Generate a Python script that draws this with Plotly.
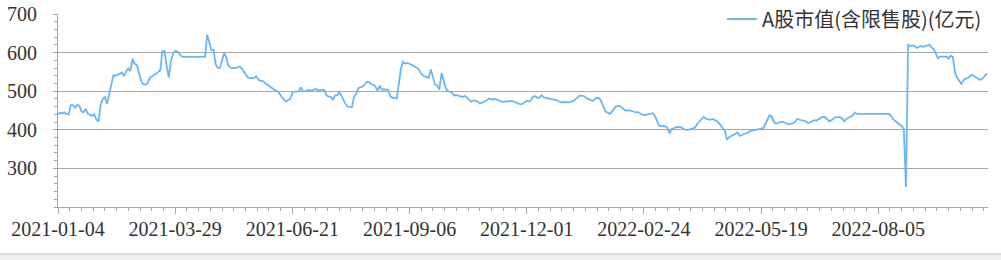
import plotly.graph_objects as go

series_name = "A股市值(含限售股)(亿元)"

tick_labels = ["2021-01-04", "2021-03-29", "2021-06-21", "2021-09-06",
               "2021-12-01", "2022-02-24", "2022-05-19", "2022-08-05"]
label_every = 55  # trading days between labelled dates

y_ticks = [300, 400, 500, 600, 700]

values = [
    440, 444, 442, 445, 441, 440, 464, 464, 457, 464,
    463, 448, 445, 453, 442, 440, 436, 440, 427, 421,
    464, 480, 485, 467, 490, 517, 541, 540, 543, 545,
    548, 539, 552, 559, 552, 584, 571, 568, 543, 527,
    518, 517, 520, 534, 538, 541, 545, 550, 554, 604,
    604, 565, 536, 578, 597, 604, 603, 597, 590, 589,
    589, 589, 589, 589, 589, 589, 589, 589, 589, 589,
    646, 626, 606, 607, 570, 560, 561, 580, 599, 588,
    566, 561, 560, 560, 561, 564, 561, 553, 545, 536,
    534, 534, 534, 539, 530, 527, 527, 522, 518, 513,
    510, 504, 502, 500, 494, 485, 478, 473, 477, 480,
    495, 499, 499, 500, 510, 499, 500, 501, 504, 501,
    503, 506, 502, 503, 504, 503, 489, 486, 486, 477,
    489, 489, 497, 489, 477, 466, 460, 460, 459, 486,
    494, 508, 510, 512, 518, 524, 524, 517, 517, 512,
    501, 514, 504, 505, 504, 503, 486, 483, 483, 481,
    520, 560, 576, 571, 573, 571, 568, 566, 562, 559,
    550, 542, 539, 537, 534, 556, 539, 517, 515, 504,
    547, 530, 508, 500, 499, 495, 489, 490, 489, 486,
    485, 488, 483, 480, 473, 476, 475, 473, 468, 470,
    472, 475, 480, 480, 478, 480, 478, 475, 473, 473,
    473, 473, 474, 475, 473, 471, 468, 466, 467, 472,
    475, 473, 476, 486, 487, 483, 483, 490, 484, 483,
    482, 480, 478, 478, 477, 474, 471, 472, 472, 471,
    471, 473, 475, 480, 485, 489, 488, 487, 482, 480,
    477, 475, 480, 483, 482, 474, 460, 447, 445, 441,
    447, 455, 461, 462, 461, 456, 451, 450, 451, 449,
    448, 445, 446, 443, 441, 438, 439, 441, 443, 443,
    438, 425, 412, 409, 410, 409, 405, 391, 402, 404,
    407, 407, 407, 405, 401, 400, 400, 402, 404, 406,
    415, 421, 428, 434, 429, 427, 426, 428, 426, 424,
    419, 410, 404, 398, 374, 381, 384, 387, 390, 393,
    384, 387, 390, 391, 393, 397, 398, 400, 400, 402,
    403, 404, 415, 425, 438, 434, 420, 416, 418, 420,
    421, 419, 416, 414, 416, 417, 421, 428, 426, 425,
    423, 422, 417, 419, 421, 425, 424, 427, 430, 434,
    433, 426, 422, 425, 430, 433, 433, 433, 430, 422,
    428, 431, 433, 437, 445, 441, 441, 441, 441, 441,
    441, 441, 441, 441, 441, 441, 441, 441, 441, 441,
    441, 436, 427, 423, 419, 415, 410, 401, 252, 620,
    617, 618, 618, 612, 614, 617, 615, 617, 619, 620,
    613, 609, 598, 585, 589, 590, 589, 590, 585, 592,
    589, 548, 535, 528, 519, 528, 533, 533, 538, 543,
    539, 535, 533, 529, 533, 540, 546,
]

x_idx = list(range(len(values)))
tick_pos = [i * label_every for i in range(len(tick_labels))]

axis_grey = "#a6a6a6"
text_col = "#333333"
tick_font = dict(family="Liberation Serif", size=20, color=text_col)

fig = go.Figure()
fig.add_trace(go.Scatter(
    x=x_idx, y=values, mode="lines", name=series_name,
    line=dict(color="#6cb6f0", width=1.8),
))

fig.update_layout(
    width=1001, height=260,
    margin=dict(l=58, r=13, t=14, b=53, autoexpand=False),
    plot_bgcolor="white", paper_bgcolor="white",
    showlegend=True,
    legend=dict(
        x=0.714, y=0.974, xanchor="left", yanchor="middle",
        bgcolor="white", borderwidth=0,
        font=dict(family="Noto Sans CJK SC", size=20, color=text_col),
        itemwidth=30,
    ),
    shapes=[
        dict(type="rect", xref="paper", yref="paper",
             x0=-0.08, x1=1.03, y0=-0.2435, y1=-0.32,
             fillcolor="#f0f0f0", line=dict(width=0), layer="above"),
        dict(type="line", xref="paper", yref="paper",
             x0=-0.08, x1=1.03, y0=-0.2435, y1=-0.2435,
             line=dict(color="#c8c8c8", width=1), layer="above"),
    ],
)

fig.update_xaxes(
    range=[0, len(values) - 0.5],
    tickmode="array", tickvals=tick_pos, ticktext=tick_labels,
    showgrid=False, zeroline=False,
    showline=True, linecolor=axis_grey, linewidth=1,
    ticks="outside", ticklen=6, tickcolor=axis_grey,
    minor=dict(dtick=5.5, tick0=0, ticks="outside", ticklen=3,
               tickcolor=axis_grey, showgrid=False),
    tickfont=tick_font, ticklabelstandoff=-2,
)
fig.update_yaxes(
    range=[200, 700],
    tickmode="array", tickvals=y_ticks,
    showgrid=True, gridcolor=axis_grey, gridwidth=1, zeroline=False,
    showline=True, linecolor=axis_grey, linewidth=1,
    ticks="outside", ticklen=4, tickcolor=axis_grey,
    minor=dict(dtick=20, tick0=200, ticks="outside", ticklen=3,
               tickcolor=axis_grey, showgrid=False),
    tickfont=tick_font, ticklabelstandoff=12,
)

fig.write_html("out.html")
